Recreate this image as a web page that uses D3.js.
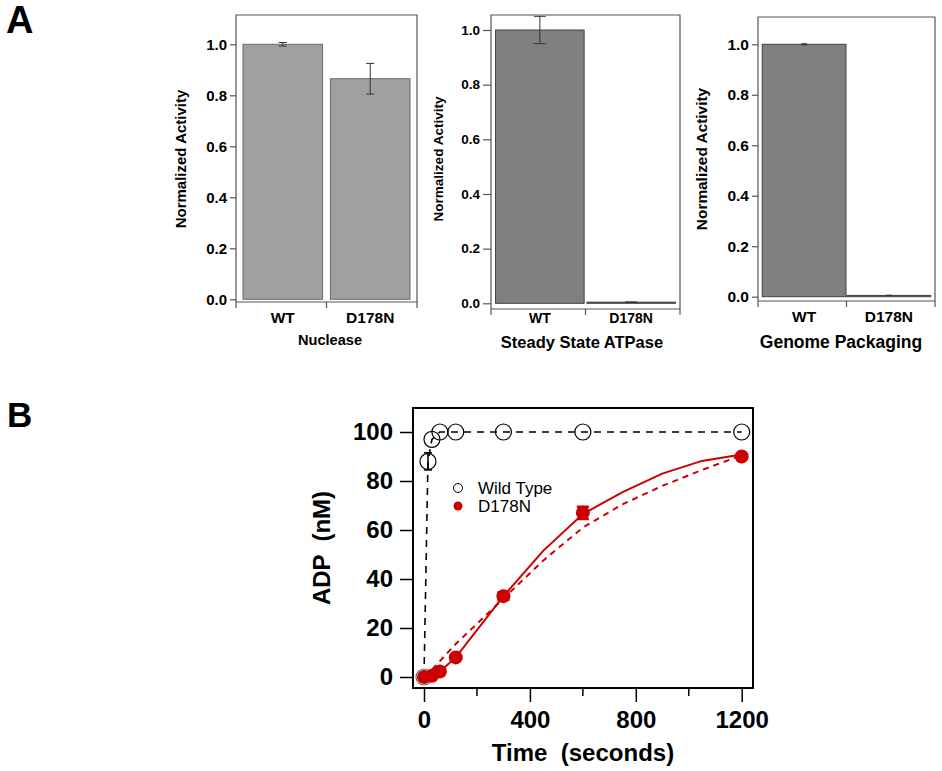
<!DOCTYPE html>
<html><head><meta charset="utf-8">
<script src="https://cdn.jsdelivr.net/npm/d3@7"></script>
<style>body{margin:0;background:#fff}svg{display:block}text{font-family:Arial,"Liberation Sans",sans-serif}</style>
</head><body><svg id="c" width="942" height="771"></svg>
<script>
// ---------- data ----------
const barCategories = ["WT", "D178N"];
const nucleaseValues = [1.0, 0.865];
const nucleaseErrors = [0.007, 0.06];
const atpaseValues = [1.0, 0.004];
const atpaseErrors = [0.05, 0.001];
const packagingValues = [1.0, 0.005];
const packagingErrors = [0.002, 0.001];
const barTicks = [0, 0.2, 0.4, 0.6, 0.8, 1.0];
const panelTitles = ["Nuclease", "Steady State ATPase", "Genome Packaging"];

const timeWT = [0, 15, 30, 60, 120, 300, 600, 1200];
const adpWT = [0, 88, 97, 100, 100, 100, 100, 100];
const errWT = [0, 3.5, 0, 0, 0, 0, 0, 0];
const timeMut = [0, 30, 60, 120, 300, 600, 1200];
const adpMut = [0, 0.5, 2.2, 8, 33, 67, 90];
const errMut = [0, 0, 0, 0, 1.5, 2.5, 0];
const fitWTTime = [0, 15, 30, 60, 120, 300, 600, 1200];
const fitWTValues = [0, 88, 97, 100, 100, 100, 100, 100];
const fitMutTime = [0, 30, 60, 120, 300, 450, 600, 750, 900, 1050, 1200];
const fitMutSolid = [0, 0.5, 2.2, 8, 33, 51.5, 66.5, 75.5, 83, 88.2, 90.8];
const fitMutDashed = [0, 3, 6.5, 13.5, 32, 47.5, 61, 70.5, 78, 84.5, 90.5];
const timeTicks = [0, 400, 800, 1200];
const timeMinorTicks = [200, 600, 1000];
const adpTicks = [0, 20, 40, 60, 80, 100];
const legendLabels = ["Wild Type", "D178N"];

// ---------- drawing ----------
const svg = d3.select("#c");
const RED = "#cc0000";

svg.append("text").attr("x", 6).attr("y", 33).attr("font-size", 38).attr("font-weight", "bold").text("A");
svg.append("text").attr("x", 7).attr("y", 427).attr("font-size", 35).attr("font-weight", "bold").text("B");

function barPanel(c) {
  const g = svg.append("g");
  const y = d3.scaleLinear().domain([0, 1]).range([c.y0, c.y1]);
  const x = d3.scaleBand().domain(barCategories).range([c.left, c.right])
    .paddingInner(c.pi).paddingOuter(c.po);
  const bw = x.bandwidth();
  g.selectAll("rect.bar").data(barCategories).join("rect")
    .attr("x", d => x(d)).attr("width", bw)
    .attr("y", (d, i) => y(c.values[i]))
    .attr("height", (d, i) => Math.max(1, y(0) - y(c.values[i])))
    .attr("fill", c.fill).attr("stroke", c.stroke).attr("stroke-width", 1);
  barCategories.forEach((d, i) => {
    const cx = x(d) + bw / 2, v = c.values[i], e = c.errors[i];
    const eg = g.append("g").attr("stroke", "#333").attr("stroke-width", 1);
    eg.append("line").attr("x1", cx).attr("x2", cx).attr("y1", y(v + e)).attr("y2", y(v - e));
    [v + e, v - e].forEach(t => eg.append("line").attr("x1", cx - c.cap).attr("x2", cx + c.cap).attr("y1", y(t)).attr("y2", y(t)));
  });
  g.append("path").attr("d", `M${c.left},${c.axisY}V${c.top}H${c.right}V${c.axisY}H${c.left}`)
    .attr("fill", "none").attr("stroke", "#555").attr("stroke-width", 1.2);
  const bounds = [c.left, (x("WT") + bw + x("D178N")) / 2, c.right];
  g.selectAll("line.xt").data(bounds).join("line")
    .attr("x1", d => d).attr("x2", d => d).attr("y1", c.axisY).attr("y2", c.axisY + c.xTick)
    .attr("stroke", "#555").attr("stroke-width", 1.2);
  const ya = g.append("g").attr("transform", `translate(${c.left},0)`)
    .call(d3.axisLeft(y).tickValues(barTicks).tickFormat(d3.format(".1f")).tickSize(c.yTick).tickPadding(3));
  ya.select(".domain").remove();
  ya.selectAll("line").attr("stroke", "#555").attr("stroke-width", 1.2);
  ya.selectAll("text").attr("font-size", c.tickFont).attr("font-weight", "bold").attr("fill", "#000")
    .attr("font-family", "Arial, 'Liberation Sans', sans-serif");
  g.selectAll("text.xl").data(barCategories).join("text")
    .attr("x", d => x(d) + bw / 2).attr("y", c.xLabelY)
    .attr("text-anchor", "middle").attr("font-size", c.xFont).attr("font-weight", "bold").text(d => d);
  g.append("text").attr("transform", `translate(${c.yTitleX},${c.yTitleY}) rotate(-90)`)
    .attr("text-anchor", "middle").attr("dy", "0.35em").attr("font-size", c.yTitleFont).attr("font-weight", "bold")
    .text("Normalized Activity");
  g.append("text").attr("x", c.titleX).attr("y", c.titleY).attr("text-anchor", "middle")
    .attr("font-size", c.titleFont).attr("font-weight", "bold").text(c.title);
}

barPanel({left: 236, right: 417, top: 15, y0: 299.3, y1: 44.3, axisY: 302, pi: 0.09, po: 0.08,
  values: nucleaseValues, errors: nucleaseErrors, fill: "#a0a0a0", stroke: "#6a6a6a", cap: 4,
  xTick: 6, yTick: 6, tickFont: 15, xFont: 15.5, xLabelY: 323, yTitleX: 181, yTitleY: 159, yTitleFont: 15,
  titleX: 330, titleY: 345, titleFont: 14.6, title: panelTitles[0]});
barPanel({left: 491, right: 680, top: 15, y0: 303.3, y1: 30, axisY: 309, pi: 0.03, po: 0.05,
  values: atpaseValues, errors: atpaseErrors, fill: "#808080", stroke: "#404040", cap: 6,
  xTick: 6, yTick: 8, tickFont: 13.5, xFont: 14, xLabelY: 323, yTitleX: 438, yTitleY: 159, yTitleFont: 13.5,
  titleX: 582, titleY: 348, titleFont: 16.5, title: panelTitles[1]});
barPanel({left: 758, right: 935, top: 17, y0: 296.7, y1: 44.3, axisY: 301, pi: 0.012, po: 0.05,
  values: packagingValues, errors: packagingErrors, fill: "#808080", stroke: "#404040", cap: 3,
  xTick: 6, yTick: 6, tickFont: 15.5, xFont: 15.5, xLabelY: 322, yTitleX: 702, yTitleY: 159, yTitleFont: 15.4,
  titleX: 841, titleY: 348, titleFont: 17.5, title: panelTitles[2]});

// ---------- panel B ----------
const xB = d3.scaleLinear().domain([0, 1200]).range([424, 741.7]);
const yB = d3.scaleLinear().domain([0, 100]).range([677, 432]);
const fL = xB(-41.6), fR = xB(1242.7), fT = yB(109.8), fB = yB(-4.5);
const gB = svg.append("g");

gB.append("rect").attr("x", fL).attr("y", fT).attr("width", fR - fL).attr("height", fB - fT)
  .attr("fill", "none").attr("stroke", "#000").attr("stroke-width", 2);

const yAx = gB.append("g").attr("transform", `translate(${fL},0)`)
  .call(d3.axisLeft(yB).tickValues(adpTicks).tickFormat(d3.format("d")).tickSize(13).tickPadding(7));
yAx.select(".domain").remove();
yAx.selectAll("line").attr("stroke", "#000").attr("stroke-width", 1.5);
yAx.selectAll("text").attr("font-size", 24).attr("font-weight", "bold").attr("fill", "#000")
  .attr("font-family", "Arial, 'Liberation Sans', sans-serif");

const xAx = gB.append("g").attr("transform", `translate(0,${fB + 1})`)
  .call(d3.axisBottom(xB).tickValues(timeTicks).tickFormat(d3.format("d")).tickSize(13).tickPadding(9));
xAx.select(".domain").remove();
xAx.selectAll("line").attr("stroke", "#000").attr("stroke-width", 1.5);
xAx.selectAll("text").attr("font-size", 24).attr("font-weight", "bold").attr("fill", "#000")
  .attr("font-family", "Arial, 'Liberation Sans', sans-serif");
gB.selectAll("line.minor").data(timeMinorTicks).join("line")
  .attr("x1", d => xB(d)).attr("x2", d => xB(d)).attr("y1", fB + 1).attr("y2", fB + 8)
  .attr("stroke", "#000").attr("stroke-width", 1.5);

gB.append("text").attr("x", 583).attr("y", 761).attr("text-anchor", "middle")
  .attr("font-size", 24).attr("font-weight", "bold").style("white-space", "pre")
  .text("Time  (seconds)");
gB.append("text").attr("transform", "translate(322,548) rotate(-90)").attr("text-anchor", "middle")
  .attr("dy", "0.35em").attr("font-size", 24).attr("font-weight", "bold").style("white-space", "pre")
  .text("ADP  (nM)");

const line = d3.line().x(d => xB(d[0])).y(d => yB(d[1]));
gB.append("path").datum(fitWTTime.map((t, i) => [t, fitWTValues[i]]))
  .attr("d", line).attr("fill", "none").attr("stroke", "#000").attr("stroke-width", 1.6).attr("stroke-dasharray", "7,6");
gB.append("path").datum(fitMutTime.map((t, i) => [t, fitMutDashed[i]]))
  .attr("d", line).attr("fill", "none").attr("stroke", RED).attr("stroke-width", 2).attr("stroke-dasharray", "6,5");
gB.append("path").datum(fitMutTime.map((t, i) => [t, fitMutSolid[i]]))
  .attr("d", line).attr("fill", "none").attr("stroke", RED).attr("stroke-width", 2);

timeWT.forEach((t, i) => {
  if (errWT[i] > 0) {
    const cx = xB(t);
    gB.append("line").attr("x1", cx).attr("x2", cx).attr("y1", yB(adpWT[i] + errWT[i])).attr("y2", yB(adpWT[i] - errWT[i])).attr("stroke", "#000").attr("stroke-width", 1.5);
    [adpWT[i] + errWT[i], adpWT[i] - errWT[i]].forEach(v => gB.append("line").attr("x1", cx - 4).attr("x2", cx + 4).attr("y1", yB(v)).attr("y2", yB(v)).attr("stroke", "#000").attr("stroke-width", 1.5));
  }
});
gB.selectAll("circle.wt").data(timeWT).join("circle")
  .attr("cx", d => xB(d)).attr("cy", (d, i) => yB(adpWT[i])).attr("r", 8)
  .attr("fill", "none").attr("stroke", (d, i) => i === 0 ? "#666" : "#000").attr("stroke-width", 1.2);

timeMut.forEach((t, i) => {
  if (errMut[i] > 0) {
    const cx = xB(t);
    gB.append("line").attr("x1", cx).attr("x2", cx).attr("y1", yB(adpMut[i] + errMut[i])).attr("y2", yB(adpMut[i] - errMut[i])).attr("stroke", RED).attr("stroke-width", 2);
    [adpMut[i] + errMut[i], adpMut[i] - errMut[i]].forEach(v => gB.append("line").attr("x1", cx - 6).attr("x2", cx + 6).attr("y1", yB(v)).attr("y2", yB(v)).attr("stroke", RED).attr("stroke-width", 2.5));
  }
});
gB.selectAll("circle.mut").data(timeMut).join("circle")
  .attr("cx", d => xB(d)).attr("cy", (d, i) => yB(adpMut[i])).attr("r", 7).attr("fill", RED);

const lg = gB.append("g");
lg.append("circle").attr("cx", 458).attr("cy", 488).attr("r", 4.5).attr("fill", "none").attr("stroke", "#000").attr("stroke-width", 1);
lg.append("circle").attr("cx", 458).attr("cy", 506).attr("r", 4.5).attr("fill", RED);
lg.append("text").attr("x", 478).attr("y", 494).attr("font-size", 17).text(legendLabels[0]);
lg.append("text").attr("x", 478).attr("y", 512).attr("font-size", 17).text(legendLabels[1]);
</script></body></html>
